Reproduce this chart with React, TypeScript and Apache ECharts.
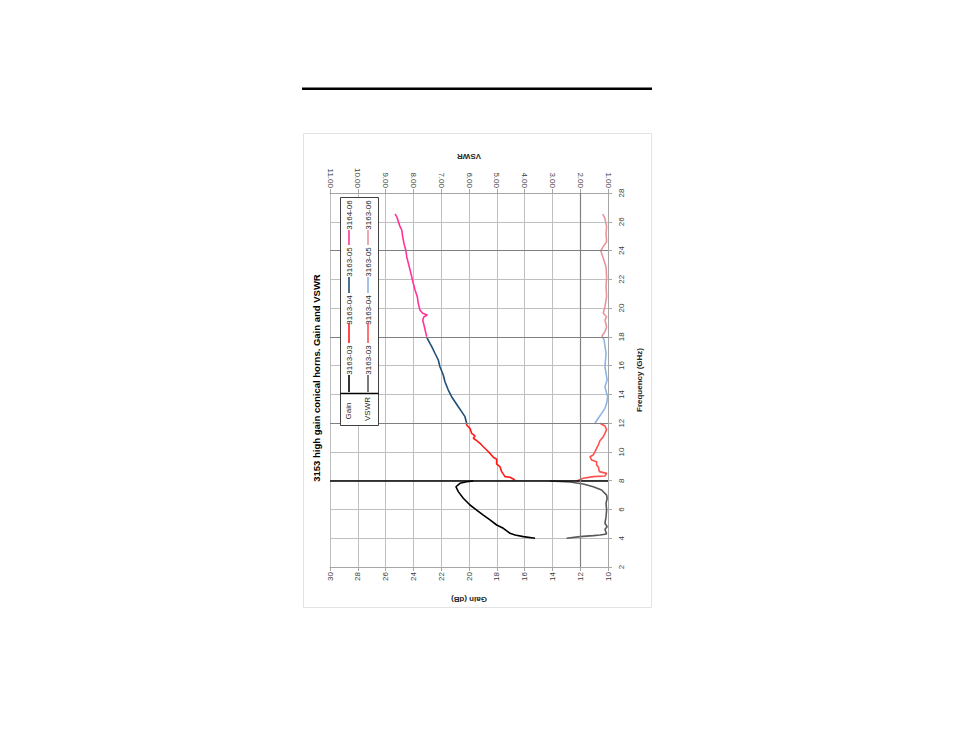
import React, { useEffect, useRef } from "react";
import * as echarts from "echarts";

const titleText = "3153 high gain conical horns. Gain and VSWR";
const gainName = "Gain (dB)";
const vswrName = "VSWR";
const freqName = "Frequency (GHz)";

const gainSeriesNames = ["3163-03", "3163-04", "3163-05", "3164-06"];
const vswrSeriesNames = ["3163-03", "3163-04", "3163-05", "3163-06"];

// Gain series: frequency (GHz) and gain (dB)
const g03Freq = [4.0, 4.11, 4.22, 4.34, 4.69, 4.92, 5.27, 5.61, 5.96, 6.31, 6.78, 7.24, 7.58, 7.82, 7.93, 7.98];
const g03Gain = [15.25, 16.09, 16.69, 17.05, 17.53, 18.01, 18.49, 18.97, 19.45, 19.93, 20.41, 20.77, 20.94, 20.65, 20.17, 19.69];

const g04Freq = [8.05, 8.24, 8.28, 8.63, 8.97, 9.16, 9.49, 9.63, 9.9, 10.13, 10.36, 10.6, 10.78, 10.95, 11.11, 11.29, 11.64, 11.87, 11.99];
const g04Gain = [16.69, 17.05, 17.41, 17.65, 17.77, 18.01, 18.01, 18.25, 18.49, 18.73, 18.97, 19.21, 19.45, 19.69, 19.57, 19.81, 19.93, 20.17, 20.17];

const g05Freq = [11.99, 12.45, 12.8, 13.14, 13.49, 13.84, 14.3, 14.88, 15.35, 15.92, 16.39, 16.86, 17.32, 17.55, 17.97];
const g05Gain = [20.17, 20.29, 20.53, 20.77, 21.01, 21.25, 21.49, 21.73, 21.85, 22.09, 22.21, 22.45, 22.68, 22.81, 23.04];

const g06Freq = [18.01, 18.7, 19.17, 19.4, 19.52, 19.64, 19.87, 20.33, 20.79, 21.26, 21.72, 22.18, 22.65, 23.11, 23.57, 24.04, 24.5, 24.96, 25.43, 25.66, 26.01, 26.36, 26.54];
const g06Gain = [23.04, 23.21, 23.33, 23.24, 23.0, 23.33, 23.53, 23.65, 23.72, 23.88, 24.01, 24.12, 24.24, 24.36, 24.48, 24.55, 24.68, 24.77, 24.84, 24.96, 25.08, 25.2, 25.32];

// VSWR series: frequency (GHz) and VSWR
const v03Freq = [4.0, 4.11, 4.18, 4.22, 4.29, 4.62, 4.8, 5.04, 5.5, 5.96, 6.43, 6.78, 7.0, 7.35, 7.58, 7.77, 7.91, 7.98];
const v03Vswr = [2.49, 2.01, 1.53, 1.29, 1.05, 1.11, 1.03, 1.11, 1.07, 1.05, 1.07, 1.03, 1.05, 1.23, 1.53, 1.89, 2.37, 3.09];

const v04Freq = [7.98, 8.17, 8.28, 8.33, 8.51, 8.63, 8.97, 9.09, 9.32, 9.44, 9.67, 9.79, 10.01, 10.25, 10.48, 10.78, 11.06, 11.29, 11.57, 11.8, 11.99];
const v04Vswr = [2.13, 1.89, 1.53, 1.11, 1.05, 1.31, 1.35, 1.41, 1.41, 1.59, 1.65, 1.53, 1.47, 1.41, 1.35, 1.29, 1.17, 1.11, 1.05, 1.11, 1.29];

const v05Freq = [11.99, 12.34, 12.68, 13.03, 13.38, 13.84, 14.07, 14.53, 15.0, 15.92, 16.86, 17.78, 18.01];
const v05Vswr = [1.47, 1.35, 1.23, 1.11, 1.05, 1.01, 1.05, 1.11, 1.03, 1.11, 1.07, 1.14, 1.2];

const v06Freq = [18.01, 18.36, 18.7, 19.17, 19.4, 19.64, 20.1, 20.79, 21.49, 22.18, 22.88, 23.46, 23.99, 24.27, 24.61, 25.2, 25.66, 26.24, 26.54];
const v06Vswr = [1.23, 1.11, 1.05, 1.11, 1.05, 1.17, 1.11, 1.05, 1.07, 1.05, 1.07, 1.17, 1.26, 1.17, 1.05, 1.07, 1.05, 1.11, 1.19];

const gainColors = ["#000000", "#ff1a1a", "#1f4e79", "#ff3399"];
const vswrColors = ["#595959", "#ff5050", "#8eb4e3", "#e6959b"];

const zip = (xs: number[], ys: number[]) => xs.map((x, i) => [x, ys[i]]);

export default function App() {
  const ref = useRef<HTMLDivElement>(null);
  useEffect(() => {
    if (!ref.current) return;
    const chart = echarts.init(ref.current, null, { renderer: "svg" });
    const gainData = [zip(g03Gain, g03Freq), zip(g04Gain, g04Freq), zip(g05Gain, g05Freq), zip(g06Gain, g06Freq)];
    const vswrData = [zip(v03Vswr, v03Freq), zip(v04Vswr, v04Freq), zip(v05Vswr, v05Freq), zip(v06Vswr, v06Freq)];

    const labelStyle = { fontSize: 8, color: "#404040", fontFamily: "Liberation Sans, Arial, sans-serif" };
    const nameStyle = { fontSize: 8, color: "#262626", fontWeight: "bold" as const, fontFamily: "Liberation Sans, Arial, sans-serif" };
    const axisLine = { show: true, lineStyle: { color: "#a6a6a6", width: 1 } };
    const axisTick = { show: true, length: 4, lineStyle: { color: "#a6a6a6" } };

    const series: any[] = [];
    gainData.forEach((d, i) => {
      series.push({
        type: "line",
        name: "Gain " + gainSeriesNames[i],
        xAxisIndex: 0,
        yAxisIndex: 0,
        data: d,
        showSymbol: false,
        symbol: "none",
        lineStyle: { color: gainColors[i], width: 1.6 },
        z: 3,
      });
    });
    vswrData.forEach((d, i) => {
      series.push({
        type: "line",
        name: "VSWR " + vswrSeriesNames[i],
        xAxisIndex: 1,
        yAxisIndex: 0,
        data: d,
        showSymbol: false,
        symbol: "none",
        lineStyle: { color: vswrColors[i], width: 1.6 },
        z: 3,
      });
    });
    // darker reference lines
    series.push({
      type: "line",
      xAxisIndex: 0,
      yAxisIndex: 0,
      data: [],
      silent: true,
      markLine: {
        silent: true,
        symbol: "none",
        label: { show: false },
        data: [
          { yAxis: 8, lineStyle: { color: "#000000", width: 1.5, type: "solid" } },
          { yAxis: 12, lineStyle: { color: "#808080", width: 1.2, type: "solid" } },
          { yAxis: 18, lineStyle: { color: "#808080", width: 1.2, type: "solid" } },
          { yAxis: 24, lineStyle: { color: "#808080", width: 1.2, type: "solid" } },
        ],
      },
    });
    series.push({
      type: "line",
      xAxisIndex: 1,
      yAxisIndex: 0,
      data: [],
      silent: true,
      markLine: {
        silent: true,
        symbol: "none",
        label: { show: false },
        data: [{ xAxis: 2, lineStyle: { color: "#808080", width: 1.2, type: "solid" } }],
      },
    });

    const legendX = [349, 368];
    const entryLine = [
      [375, 392],
      [323, 343],
      [277, 293],
      [230, 245],
    ];
    const entryTextY = [360, 310, 262, 215];
    const legendEls: any[] = [
      { type: "rect", shape: { x: 340.5, y: 197.5, width: 38, height: 228 }, style: { fill: "#ffffff", stroke: "#404040", lineWidth: 1 }, z: 10 },
      { type: "line", shape: { x1: 340.5, y1: 393.5, x2: 378.5, y2: 393.5 }, style: { stroke: "#000000", lineWidth: 1.5 }, z: 11 },
      { type: "text", x: 348, y: 411, rotation: Math.PI / 2, style: { text: "Gain", fontSize: 8, fill: "#262626", align: "center", verticalAlign: "middle", fontFamily: "Liberation Sans, Arial, sans-serif" }, z: 11 },
      { type: "text", x: 367, y: 409, rotation: Math.PI / 2, style: { text: "VSWR", fontSize: 8, fill: "#262626", align: "center", verticalAlign: "middle", fontFamily: "Liberation Sans, Arial, sans-serif" }, z: 11 },
    ];
    [gainSeriesNames, vswrSeriesNames].forEach((names, r) => {
      const colors = r === 0 ? gainColors : vswrColors;
      names.forEach((n, i) => {
        legendEls.push({
          type: "line",
          shape: { x1: legendX[r], y1: entryLine[i][0], x2: legendX[r], y2: entryLine[i][1] },
          style: { stroke: colors[i], lineWidth: 1.6 },
          z: 11,
        });
        legendEls.push({
          type: "text",
          x: legendX[r],
          y: entryTextY[i],
          rotation: Math.PI / 2,
          style: { text: n, fontSize: 8, fill: "#262626", align: "center", verticalAlign: "middle", fontFamily: "Liberation Sans, Arial, sans-serif" },
          z: 11,
        });
      });
    });

    chart.setOption({
      animation: false,
      backgroundColor: "#ffffff",
      grid: { left: 330, right: 346, top: 193, bottom: 170, containLabel: false },
      xAxis: [
        {
          type: "value",
          position: "bottom",
          min: 10,
          max: 30,
          interval: 2,
          inverse: true,
          name: gainName,
          nameLocation: "middle",
          nameRotate: 180,
          nameGap: 28,
          nameTextStyle: nameStyle,
          axisLine,
          axisTick,
          axisLabel: { ...labelStyle, rotate: 90, margin: 5 },
          splitLine: { show: true, lineStyle: { color: "#bfbfbf", width: 1 } },
        },
        {
          type: "value",
          position: "top",
          min: 1,
          max: 11,
          interval: 1,
          inverse: true,
          name: vswrName,
          nameLocation: "middle",
          nameRotate: 180,
          nameGap: 31,
          nameTextStyle: nameStyle,
          axisLine,
          axisTick,
          axisLabel: { ...labelStyle, rotate: 90, margin: 5, formatter: (v: number) => v.toFixed(2) },
          splitLine: { show: false },
        },
      ],
      yAxis: [
        {
          type: "value",
          position: "right",
          min: 2,
          max: 28,
          interval: 2,
          name: freqName,
          nameLocation: "middle",
          nameRotate: 90,
          nameGap: 27,
          nameTextStyle: nameStyle,
          axisLine,
          axisTick,
          axisLabel: { ...labelStyle, rotate: 90, margin: 9 },
          splitLine: { show: true, lineStyle: { color: "#bfbfbf", width: 1 } },
        },
      ],
      series,
      graphic: [
        { type: "rect", shape: { x: 302, y: 87.5, width: 350, height: 2.5 }, style: { fill: "#000000" }, z: 1 },
        { type: "rect", shape: { x: 303.5, y: 133.5, width: 348, height: 474 }, style: { fill: "none", stroke: "#e3e3e3", lineWidth: 1 }, z: 1 },
        {
          type: "text",
          x: 316,
          y: 378,
          rotation: Math.PI / 2,
          style: { text: titleText, fontSize: 9.5, fontWeight: "bold", fill: "#000000", align: "center", verticalAlign: "middle", fontFamily: "Liberation Sans, Arial, sans-serif" },
          z: 11,
        },
        ...legendEls,
      ],
    });
    return () => chart.dispose();
  }, []);
  return <div ref={ref} style={{ position: "absolute", left: 0, top: 0, width: 954, height: 737 }} />;
}
